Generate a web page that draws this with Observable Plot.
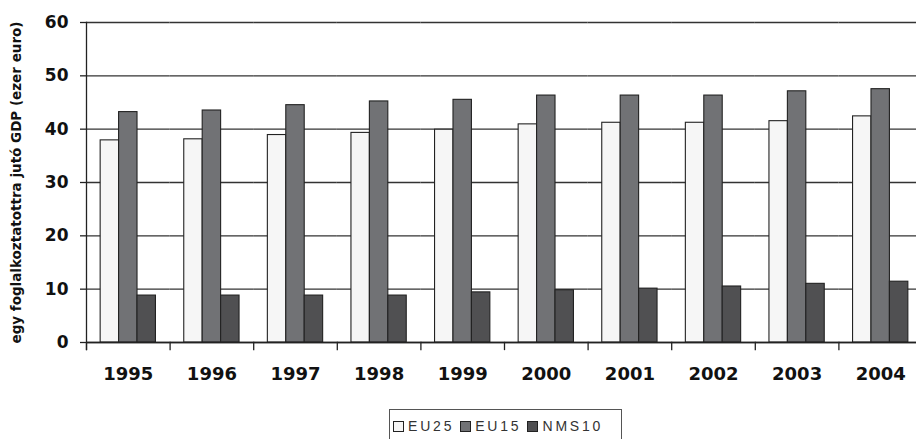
<!DOCTYPE html>
<html>
<head>
<meta charset="utf-8">
<script src="https://cdn.jsdelivr.net/npm/d3@7"></script>
<script src="https://cdn.jsdelivr.net/npm/@observablehq/plot@0.6"></script>
<style>
  html, body { margin: 0; padding: 0; background: #fff; }
  #chart svg { display: block; }
  .legend {
    margin-left: 389px; margin-top: 9px; width: 233px; height: 34px;
    border: 1px solid #555; box-sizing: border-box;
    display: flex; align-items: center; padding-left: 3px;
    font-family: "Liberation Sans", Arial, sans-serif; font-size: 14px; color: #333;
    letter-spacing: 2.8px;
  }
  .legend .item { display: flex; align-items: center; margin-right: 6px; }
  .legend .sw { width: 9px; height: 9px; border: 1px solid #222; margin-right: 4px; }
</style>
</head>
<body>
<div id="chart"></div>
<script>
const years = ["1995","1996","1997","1998","1999","2000","2001","2002","2003","2004"];
const seriesNames = ["EU25", "EU15", "NMS10"];
const eu25 = [37.9, 38.1, 38.9, 39.3, 39.9, 40.9, 41.2, 41.2, 41.5, 42.4];
const eu15 = [43.2, 43.5, 44.5, 45.2, 45.5, 46.3, 46.3, 46.3, 47.1, 47.5];
const nms10 = [8.8, 8.8, 8.8, 8.8, 9.4, 9.8, 10.1, 10.5, 11.0, 11.4];
const yTicks = [0, 10, 20, 30, 40, 50, 60];
const colors = ["#f6f6f6", "#717275", "#505052"];
const yLabel = "egy foglalkoztatottra jutó GDP (ezer euro)";

const seriesValues = [eu25, eu15, nms10];
const data = [];
years.forEach((yr, i) => {
  seriesNames.forEach((s, j) => data.push({year: yr, series: s, value: seriesValues[j][i]}));
});

const chart = Plot.plot({
  width: 916,
  height: 400,
  marginLeft: 86,
  marginRight: -6,
  marginTop: 22,
  marginBottom: 58,
  style: {fontFamily: "DejaVu Sans, sans-serif", color: "#111", background: "#fff", overflow: "visible"},
  fx: {domain: years, padding: 0, round: false, label: null},
  x: {domain: seriesNames, paddingInner: 0, paddingOuter: 0.768, round: false, axis: null},
  y: {domain: [0, 60], ticks: yTicks},
  color: {domain: seriesNames, range: colors},
  marks: [
    Plot.gridY(yTicks, {stroke: "#333", strokeOpacity: 1, strokeWidth: 1.3}),
    Plot.barY(data, {fx: "year", x: "series", y: "value", fill: "series", stroke: "#222", strokeWidth: 1.1}),
    Plot.ruleY([0], {stroke: "#222", strokeWidth: 1.3}),
    Plot.frame({anchor: "left", insetTop: 320, insetBottom: -7, stroke: "#222", strokeWidth: 1.3}),
    Plot.frame({anchor: "left", fx: "1995", insetBottom: -7, stroke: "#222", strokeWidth: 1.3}),
    Plot.axisY(yTicks, {anchor: "left", tickSize: 6, tickPadding: 12, fontSize: 17, fontWeight: "bold", label: null, stroke: "#222", strokeWidth: 1.3}),
    Plot.axisFx({anchor: "bottom", tickSize: 0, tickPadding: 25, fontSize: 18, fontWeight: "bold", label: null}),
    Plot.text([{year: "1995", t: yLabel}], {fx: "year", text: "t", frameAnchor: "left", rotate: -90, dx: -70, textAnchor: "middle", fontSize: 13.5, fontWeight: "bold", fill: "#111"})
  ]
});
document.getElementById("chart").appendChild(chart);

const legend = document.createElement("div");
legend.className = "legend";
seriesNames.forEach((s, j) => {
  const item = document.createElement("div");
  item.className = "item";
  const sw = document.createElement("div");
  sw.className = "sw";
  sw.style.background = colors[j];
  const lab = document.createElement("span");
  lab.textContent = s;
  item.appendChild(sw);
  item.appendChild(lab);
  legend.appendChild(item);
});
document.body.appendChild(legend);
</script>
</body>
</html>
